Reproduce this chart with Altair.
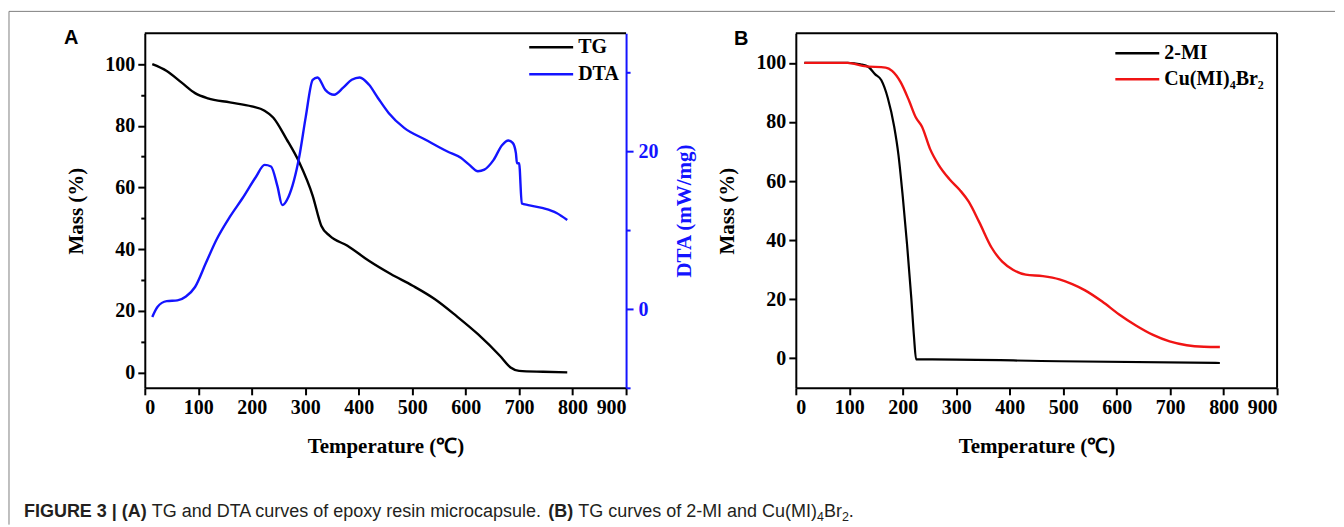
import altair as alt
import pandas as pd

# ---------------- Panel A : TG and DTA of epoxy resin microcapsule ----------------
tg_T = [14, 41, 69, 94, 118, 159, 200, 224, 240, 265, 289, 314, 330, 346, 379, 419,
        460, 501, 542, 582, 623, 664, 684, 700, 745, 790]
tg_M = [100, 97.8, 94, 90.6, 88.9, 87.6, 86.3, 84.9, 82.7, 75.7, 68.1, 57.3, 47.6,
        44.3, 41.1, 36.2, 31.9, 28.1, 23.8, 18.4, 12.4, 5.4, 1.6, 0.5, 0.2, 0.0]

dta_T = [14, 24, 41, 61, 77, 94, 114, 134, 159, 183, 208, 224, 236, 248, 257, 269,
         289, 301, 314, 323, 338, 354, 371, 387, 402, 419, 436, 456, 485, 525, 566,
         591, 607, 623, 635, 652, 668, 680, 688, 694, 696, 700, 705, 717, 745, 770, 790]
dta_V = [-1.0, 0.3, 1.0, 1.1, 1.6, 2.8, 5.8, 8.8, 11.7, 14.1, 16.8, 18.3, 18.1, 15.6,
         13.2, 14.3, 19.4, 24.4, 29.1, 29.4, 27.8, 27.2, 28.1, 29.1, 29.4, 28.5, 26.8,
         24.9, 23.0, 21.5, 20.0, 19.2, 18.3, 17.5, 17.7, 18.9, 20.8, 21.4, 21.1, 19.8,
         18.5, 18.5, 13.4, 13.2, 12.8, 12.2, 11.3]

# ---------------- Panel B : TG of 2-MI and Cu(MI)4Br2 ----------------
mi_T = [16, 97, 121, 136, 148, 160, 172, 184, 192, 200, 208, 216, 221, 225, 255, 493, 793]
mi_M = [100, 100, 99.5, 98.6, 96.2, 94.1, 88.1, 78.4, 68.8, 54.7, 38.6, 20.3, 7.3,
        -0.4, -0.4, -1.0, -1.6]

cu_T = [16, 97, 128, 168, 180, 196, 212, 224, 236, 251, 267, 287, 307, 323, 343, 366,
        386, 406, 430, 462, 493, 517, 541, 573, 604, 636, 668, 699, 731, 763, 793]
cu_M = [100, 100, 98.9, 98.4, 97.3, 93.5, 87.1, 81.7, 78.4, 70.9, 65.5, 60.7, 56.9,
        53.1, 46.1, 37.5, 32.7, 30.0, 28.3, 27.8, 26.7, 25.1, 23.0, 19.2, 14.9, 11.1,
        7.9, 5.7, 4.4, 3.9, 3.8]

series_A = ["TG", "DTA"]
series_B = ["2-MI", "Cu(MI)\u2084Br\u2082"]
x_ticks = list(range(0, 901, 50))
mass_ticks = list(range(0, 101, 10))
dta_ticks = [-10, 0, 10, 20, 30]

W, H = 482, 355
SERIF = "Liberation Serif"
SANS = "Liberation Sans"
BLUE = "#1414ff"
RED = "#f01414"

df_tg = pd.DataFrame({"T": tg_T, "v": tg_M, "s": series_A[0]})
df_dta = pd.DataFrame({"T": dta_T, "v": dta_V, "s": series_A[1]})
df_mi = pd.DataFrame({"T": mi_T, "v": mi_M, "s": series_B[0]})
df_cu = pd.DataFrame({"T": cu_T, "v": cu_M, "s": series_B[1]})
dummy = pd.DataFrame({"d": [0]})


def cond(test, a, b):
    return {"condition": {"test": test, "value": a}, "value": b}


def x_axis():
    return alt.Axis(values=x_ticks, title="Temperature (\u2103)",
                    labelExpr="datum.value % 100 === 0 ? datum.label : ''",
                    tickSize=cond("datum.value % 100 === 0", 7, 4),
                    titlePadding=18)


def mass_axis():
    return alt.Axis(values=mass_ticks, title="Mass (%)",
                    labelExpr="datum.value % 20 === 0 ? datum.label : ''",
                    tickSize=cond("datum.value % 20 === 0", 7, 4),
                    titlePadding=18)


def legend(lx, ly, row_pad):
    return alt.Legend(title=None, orient="none", legendX=lx, legendY=ly,
                      symbolType="M-9,0H2", symbolSize=64, symbolStrokeWidth=2.5,
                      labelFont=SERIF, labelFontSize=20, labelFontWeight="bold",
                      labelColor="black", labelOffset=3, rowPadding=row_pad, padding=0)


def rule(**enc):
    return alt.Chart(dummy).mark_rule(**enc.pop("style")).encode(**enc)


# ---------- Panel A ----------
colA = alt.Color("s:N", scale=alt.Scale(domain=series_A, range=["black", BLUE]),
                 legend=legend(411, 4, 7))
tg_line = alt.Chart(df_tg).mark_line(strokeWidth=2.4, interpolate="monotone").encode(
    x=alt.X("T:Q", scale=alt.Scale(domain=[0, 900]), axis=x_axis()),
    y=alt.Y("v:Q", scale=alt.Scale(domain=[-5, 110]), axis=mass_axis()),
    color=colA)
dta_line = alt.Chart(df_dta).mark_line(strokeWidth=2.4, interpolate="monotone").encode(
    x=alt.X("T:Q"),
    y=alt.Y("v:Q", scale=alt.Scale(domain=[-10, 35]),
            axis=alt.Axis(orient="right", values=dta_ticks, title="DTA (mW/mg)",
                          labelExpr="datum.value % 20 === 0 ? datum.label : ''",
                          tickSize=cond("datum.value % 20 === 0", 7, 4),
                          labelPadding=5,
                          domainColor=BLUE, tickColor=BLUE, labelColor=BLUE,
                          titleColor=BLUE, titleAngle=270, titleX=59, titleY=H / 2,
                          titleAlign="center", titleBaseline="middle")),
    color=colA)

frameA_top = rule(style=dict(color="black", strokeWidth=2),
                  x=alt.value(0), x2=alt.value(W), y=alt.value(0))
border_top = rule(style=dict(color="#808080", strokeWidth=1),
                  x=alt.value(-136), x2=alt.value(1192), y=alt.value(-22))
border_left = rule(style=dict(color="#808080", strokeWidth=1),
                   x=alt.value(-136), y=alt.value(-22), y2=alt.value(492))
labA = alt.Chart(dummy).mark_text(text="A", font=SANS, fontWeight="bold", fontSize=20,
                                  align="left", baseline="alphabetic", color="black"
                                  ).encode(x=alt.value(-81), y=alt.value(11))

# caption (mixed weights) laid out with Arial/Liberation Sans advance widths
REG = {' ': 278, '(': 333, ')': 333, '.': 278, '-': 333, 'A': 667, 'B': 667, 'C': 722,
       'D': 722, 'G': 778, 'I': 278, 'M': 833, 'T': 611, 'a': 556, 'c': 500, 'd': 556,
       'e': 556, 'f': 278, 'i': 222, 'l': 222, 'm': 833, 'n': 556, 'o': 556, 'p': 556,
       'r': 333, 's': 500, 'u': 556, 'v': 500, 'x': 500, 'y': 500}
BOLD = {' ': 278, '(': 333, ')': 333, '|': 280, 'A': 722, 'B': 722, 'E': 667, 'F': 611,
        'G': 778, 'I': 278, 'R': 722, 'U': 722}
cap_segments = [("FIGURE 3 | (A)", "bold", 18, 0),
                (" TG and DTA curves of epoxy resin microcapsule.", "normal", 18, 0),
                (" (B)", "bold", 18, 0),
                (" TG curves of 2-MI and Cu(MI)", "normal", 18, 0),
                ("4", "normal", 12.5, 4),
                ("Br", "normal", 18, 0),
                ("2", "normal", 12.5, 4),
                (".", "normal", 18, 0)]
cap_layers = []
cx = -121.0
for txt, wt, fs, dy in cap_segments:
    table = BOLD if wt == "bold" else REG
    lead = len(txt) - len(txt.lstrip(" "))
    start = cx + lead * table[' '] * fs / 1000.0
    cap_layers.append(alt.Chart(dummy).mark_text(
        text=txt.strip(), font=SANS, fontWeight=wt, fontSize=fs, align="left",
        baseline="alphabetic", color="#231f20").encode(
        x=alt.value(start), y=alt.value(484 + dy)))
    cx += sum(table.get(c, 556) for c in txt) * fs / 1000.0

panelA = alt.layer(border_top, border_left, frameA_top, tg_line, dta_line, labA,
                   *cap_layers).resolve_scale(y="independent").properties(width=W, height=H)

# ---------- Panel B ----------
colB = alt.Color("s:N", scale=alt.Scale(domain=series_B, range=["black", RED]),
                 legend=legend(346, 10, 6))
mi_line = alt.Chart(df_mi).mark_line(strokeWidth=2.2, interpolate="monotone").encode(
    x=alt.X("T:Q", scale=alt.Scale(domain=[0, 900]), axis=x_axis()),
    y=alt.Y("v:Q", scale=alt.Scale(domain=[-5, 110]), axis=mass_axis()),
    color=colB)
cu_line = alt.Chart(df_cu).mark_line(strokeWidth=2.4, interpolate="monotone").encode(
    x="T:Q", y="v:Q", color=colB)
frameB_top = rule(style=dict(color="black", strokeWidth=2),
                  x=alt.value(0), x2=alt.value(W), y=alt.value(0))
frameB_right = rule(style=dict(color="black", strokeWidth=2),
                    x=alt.value(W), y=alt.value(0), y2=alt.value(H))
labB = alt.Chart(dummy).mark_text(text="B", font=SANS, fontWeight="bold", fontSize=20,
                                  align="left", baseline="alphabetic", color="black"
                                  ).encode(x=alt.value(-62), y=alt.value(12))
panelB = alt.layer(frameB_top, frameB_right, mi_line, cu_line, labB).properties(
    width=W, height=H)

chart = alt.hconcat(panelA, panelB, spacing=170, bounds="flush").resolve_scale(
    color="independent").properties(
    padding={"left": 0, "top": 2, "right": 0, "bottom": 0}, background="white"
).configure_view(stroke=None).configure_axis(
    grid=False, domainColor="black", domainWidth=2, tickColor="black", tickWidth=2,
    labelFont=SERIF, labelFontSize=20, labelFontWeight="bold", labelColor="black",
    labelPadding=3, titleFont=SERIF, titleFontSize=21, titleFontWeight="bold",
    titleColor="black"
)

chart.save("out.html", embed_options={"renderer": "svg", "actions": False})
